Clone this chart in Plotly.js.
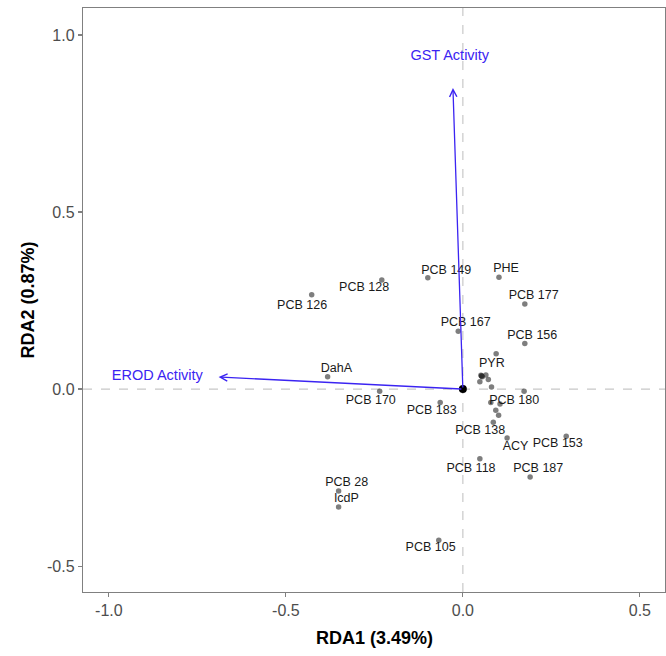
<!DOCTYPE html>
<html>
<head>
<meta charset="utf-8">
<script src="https://cdn.plot.ly/plotly-3.0.1.min.js"></script>
<style>html,body{margin:0;padding:0;background:#fff;}#chart{width:666px;height:656px;}</style>
</head>
<body>
<div id="chart"></div>
<script>
// Labelled site scores (RDA1, RDA2)
const siteNames = ["PCB 126","PCB 128","PCB 149","PHE","PCB 177","PCB 167","PCB 156","PYR","DahA","PCB 170","PCB 183","PCB 180","PCB 138","ACY","PCB 153","PCB 118","PCB 187","PCB 28","IcdP","PCB 105"];
const siteX = [-0.427,-0.229,-0.099,0.102,0.175,-0.013,0.175,0.053,-0.382,-0.235,-0.064,0.173,0.086,0.125,0.292,0.048,0.190,-0.351,-0.351,-0.068];
const siteY = [0.266,0.308,0.314,0.316,0.240,0.163,0.129,0.037,0.035,-0.006,-0.038,-0.006,-0.094,-0.138,-0.133,-0.197,-0.248,-0.288,-0.333,-0.427];
// Repelled label positions
const labelX = [-0.454,-0.279,-0.047,0.122,0.200,0.008,0.196,0.082,-0.357,-0.260,-0.088,0.145,0.049,0.149,0.268,0.023,0.213,-0.328,-0.329,-0.091];
const labelY = [0.236,0.286,0.334,0.339,0.262,0.186,0.151,0.071,0.057,-0.032,-0.062,-0.034,-0.119,-0.163,-0.156,-0.224,-0.226,-0.266,-0.311,-0.449];
// Unlabelled (overlapping) site scores
const extraX = [0.094,0.065,0.072,0.048,0.081,0.079,0.105,0.093,0.101,0.053,0.055,0.051];
const extraY = [0.100,0.040,0.027,0.021,0.006,-0.038,-0.042,-0.060,-0.074,0.037,0.035,0.039];
// Environmental vectors (biplot scores)
const envNames = ["EROD Activity","GST Activity"];
const envX = [-0.690,-0.028];
const envY = [0.034,0.850];
const envLabelX = [-0.863,-0.037];
const envLabelY = [0.037,0.939];
// Tick labels
const xTickVals = [-1.0,-0.5,0.0,0.5];
const xTickText = ["-1.0","-0.5","0.0","0.5"];
const yTickVals = [-0.5,0.0,0.5,1.0];
const yTickText = ["-0.5","0.0","0.5","1.0"];

const blue = '#3b24f2';
const FONT = 'Liberation Sans, Arial, sans-serif';
const traces = [
  {x: siteX.concat(extraX), y: siteY.concat(extraY), mode:'markers', type:'scatter',
   marker:{size:5.5, color:'rgba(40,40,40,0.6)'}, hoverinfo:'skip', showlegend:false},
  {x: labelX, y: labelY, text: siteNames, mode:'text', type:'scatter',
   textfont:{family:FONT, size:12.5, color:'#1a1a1a'}, hoverinfo:'skip', showlegend:false},
  {x:[0], y:[0], mode:'markers', type:'scatter', marker:{size:8, color:'#000'}, hoverinfo:'skip', showlegend:false},
  {x: envLabelX, y: envLabelY, text: envNames, mode:'text', type:'scatter',
   textfont:{family:FONT, size:14.5, color: blue}, hoverinfo:'skip', showlegend:false}
];

const annotations = envNames.map((n,i)=>({
  x: envX[i], y: envY[i], ax: 0, ay: 0, xref:'x', yref:'y', axref:'x', ayref:'y',
  text:'', showarrow:true, arrowhead:5, arrowsize:1.1, arrowwidth:1.3, arrowcolor: blue, standoff:0
}));
annotations.push({
  text:'<b>RDA1 (3.49%)</b>', xref:'paper', yref:'paper', x:0.5, y:-0.079,
  xanchor:'center', yanchor:'middle', showarrow:false,
  font:{family:FONT, size:18, color:'#000'}
});

const axisCommon = {
  showgrid:false, zeroline:false, showline:true, mirror:true, linecolor:'#808080', linewidth:1.2,
  ticks:'outside', ticklen:4, tickcolor:'#808080', tickwidth:1.2,
  tickfont:{family:FONT, size:16, color:'#4d4d4d'}
};

const layout = {
  width:666, height:656,
  margin:{l:83, r:1, t:8, b:64},
  paper_bgcolor:'#fff', plot_bgcolor:'#fff',
  xaxis: Object.assign({}, axisCommon, {
    range:[-1.073,0.571], tickvals:xTickVals, ticktext:xTickText
  }),
  yaxis: Object.assign({}, axisCommon, {
    range:[-0.573,1.076], tickvals:yTickVals, ticktext:yTickText,
    title:{text:'<b>RDA2 (0.87%)</b>', font:{family:FONT, size:18, color:'#000'}, standoff:7}
  }),
  shapes:[
    {type:'line', xref:'x', yref:'paper', x0:0, x1:0, y0:0, y1:1, line:{color:'#c8c8c8', width:1.2, dash:'dash'}, layer:'below'},
    {type:'line', xref:'paper', yref:'y', x0:0, x1:1, y0:0, y1:0, line:{color:'#c8c8c8', width:1.2, dash:'dash'}, layer:'below'}
  ],
  annotations: annotations
};

Plotly.newPlot('chart', traces, layout, {staticPlot:true, displayModeBar:false});
</script>
</body>
</html>
